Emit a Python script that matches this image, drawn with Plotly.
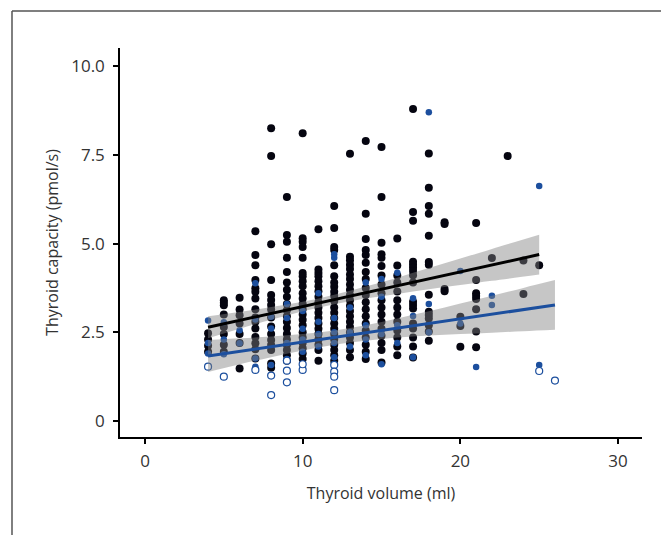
import plotly.graph_objects as go

# ---- data (x = thyroid volume ml, y = capacity pmol/s) ----
black_pts = {
    4: [2.47, 2.12, 1.95, 2.3],
    5: [3.4, 3.33, 3.26, 3.0, 2.65, 2.45, 2.15, 1.95],
    6: [3.47, 3.14, 2.98, 2.75, 2.45, 2.2, 1.48],
    7: [5.35, 4.68, 4.39, 3.97, 3.74, 3.64, 3.45, 3.15, 2.92, 2.8, 2.61, 2.37, 2.19, 2.02, 1.76],
    8: [8.25, 7.47, 4.98, 3.97, 3.55, 3.41, 3.27, 3.14, 2.92, 2.66, 2.45, 2.28, 2.14, 2.0, 1.62, 1.5],
    9: [6.31, 5.24, 5.05, 4.6, 4.2, 3.9, 3.7, 3.5, 3.3, 3.12, 2.95, 2.8, 2.62, 2.45, 2.3, 2.15, 2.0, 1.85, 1.7],
    10: [8.11, 5.15, 5.05, 4.9, 4.6, 4.17, 4.08, 3.94, 3.8, 3.6, 3.45, 3.3, 3.15, 3.0, 2.85, 2.7, 2.5, 2.35, 2.2, 2.05, 1.9, 1.75],
    11: [5.4, 4.27, 4.17, 4.08, 3.94, 3.8, 3.66, 3.5, 3.35, 3.2, 3.05, 2.9, 2.75, 2.6, 2.45, 2.3, 2.15, 2.0, 1.7],
    12: [6.06, 5.44, 4.9, 4.82, 4.39, 4.08, 3.9, 3.78, 3.64, 3.52, 3.38, 3.2, 3.05, 2.9, 2.75, 2.6, 2.45, 2.3, 2.15, 2.0, 1.85, 1.7],
    13: [7.53, 4.63, 4.53, 4.4, 4.28, 4.13, 4.0, 3.85, 3.7, 3.55, 3.4, 3.25, 3.1, 2.95, 2.8, 2.65, 2.5, 2.35, 2.2, 2.0, 1.8],
    14: [7.89, 5.84, 5.13, 4.82, 4.68, 4.46, 4.2, 4.0, 3.75, 3.55, 3.35, 3.15, 2.95, 2.75, 2.55, 2.35, 2.15, 1.95, 1.75],
    15: [7.72, 6.31, 5.02, 4.7, 4.6, 4.37, 4.1, 3.85, 3.6, 3.4, 3.2, 3.0, 2.8, 2.6, 2.4, 2.2, 2.0, 1.65],
    16: [5.14, 4.38, 4.1, 3.9, 3.65, 3.4, 3.2, 3.0, 2.8, 2.55, 2.35, 2.1, 1.85],
    17: [8.79, 5.89, 5.64, 4.49, 4.4, 4.32, 4.23, 4.11, 3.9, 3.36, 3.27, 3.17, 2.75, 2.61, 2.35, 2.1, 1.79],
    18: [7.54, 6.57, 6.06, 5.84, 5.22, 4.48, 4.4, 3.56, 3.08, 2.99, 2.89, 2.7, 2.52, 2.26],
    19: [5.6, 5.55, 3.72, 3.66],
    20: [2.94, 2.68, 2.09],
    21: [5.58, 3.97, 3.6, 3.52, 3.44, 3.15, 2.52, 2.08],
    22: [4.59],
    23: [7.47],
    24: [4.52, 3.58],
    25: [4.39],
}

blue_pts = {
    4: [2.83, 2.2, 1.9],
    5: [2.78, 2.3, 1.88],
    6: [2.56, 2.19],
    7: [3.88, 2.86, 1.76, 1.53],
    8: [2.94, 2.61, 1.58],
    9: [3.3, 2.9, 2.2, 1.75],
    10: [3.1, 2.6, 2.3, 1.95],
    11: [3.6, 2.8, 2.45, 2.1],
    12: [4.7, 4.6, 2.9, 2.5, 2.2, 1.8],
    13: [3.2, 2.5, 2.1],
    14: [3.9, 2.7, 2.3, 1.85],
    15: [4.0, 3.5, 2.45, 1.6],
    16: [4.18, 2.7, 2.2],
    17: [3.46, 2.96, 1.8],
    18: [8.7, 3.3, 2.5],
    20: [4.23, 2.75],
    21: [1.52],
    22: [3.53, 3.27],
    25: [6.62, 1.58],
}

open_pts = {
    4: [1.53], 5: [1.25], 7: [1.44], 8: [1.28, 0.73], 9: [1.7, 1.42, 1.09],
    10: [1.44, 1.6], 12: [1.58, 1.39, 1.25, 0.87], 25: [1.41], 26: [1.14],
}

# regression fits with confidence bands
black_fit_x = [4, 6, 8, 10, 12, 14, 16, 18, 20, 22, 25]
black_fit_y = [2.64, 2.835, 3.03, 3.226, 3.42, 3.62, 3.81, 4.01, 4.20, 4.40, 4.69]
black_lo = [2.33, 2.60, 2.85, 3.09, 3.29, 3.45, 3.58, 3.71, 3.83, 3.95, 4.13]
black_hi = [2.95, 3.07, 3.21, 3.36, 3.56, 3.79, 4.04, 4.31, 4.58, 4.85, 5.25]

blue_fit_x = [4, 6, 8, 10, 12, 14, 16, 18, 20, 22, 24, 26]
blue_fit_y = [1.83, 1.96, 2.09, 2.22, 2.35, 2.48, 2.62, 2.75, 2.88, 3.01, 3.14, 3.27]
blue_lo = [1.38, 1.60, 1.80, 1.99, 2.15, 2.26, 2.35, 2.41, 2.45, 2.49, 2.53, 2.57]
blue_hi = [2.28, 2.33, 2.38, 2.45, 2.55, 2.70, 2.89, 3.09, 3.31, 3.53, 3.75, 3.97]

x_ticks = [0, 10, 20, 30]
y_ticks = [0, 2.5, 5.0, 7.5, 10.0]
y_tick_labels = ["0", "2.5", "5.0", "7.5", "10.0"]


def flatten(d):
    xs, ys = [], []
    for k, vals in d.items():
        for v in vals:
            xs.append(k)
            ys.append(v)
    return xs, ys


BLUE = "#1c4f9e"
BAND = "rgba(128,128,128,0.45)"

fig = go.Figure()

bx, by = flatten(black_pts)
fig.add_trace(go.Scatter(x=bx, y=by, mode="markers",
                         marker=dict(color="#050510", size=8, line=dict(width=0))))
ux, uy = flatten(blue_pts)
fig.add_trace(go.Scatter(x=ux, y=uy, mode="markers",
                         marker=dict(color=BLUE, size=6.5, line=dict(width=0))))
ox, oy = flatten(open_pts)
fig.add_trace(go.Scatter(x=ox, y=oy, mode="markers",
                         marker=dict(color="white", size=7, line=dict(color=BLUE, width=1.2))))

for fx, lo, hi in [(black_fit_x, black_lo, black_hi), (blue_fit_x, blue_lo, blue_hi)]:
    fig.add_trace(go.Scatter(x=fx, y=lo, mode="lines", line=dict(width=0, shape="spline"),
                             hoverinfo="skip"))
    fig.add_trace(go.Scatter(x=fx, y=hi, mode="lines", line=dict(width=0, shape="spline"),
                             fill="tonexty", fillcolor=BAND, hoverinfo="skip"))

fig.add_trace(go.Scatter(x=black_fit_x, y=black_fit_y, mode="lines",
                         line=dict(color="black", width=3)))
fig.add_trace(go.Scatter(x=blue_fit_x, y=blue_fit_y, mode="lines",
                         line=dict(color=BLUE, width=3)))

font = "Open Sans, Noto Sans, DejaVu Sans, sans-serif"
TXT = "#333333"
fig.update_layout(
    width=661, height=527,
    margin=dict(l=112, r=27, t=40, b=98),
    paper_bgcolor="white", plot_bgcolor="white",
    showlegend=False,
    font=dict(family=font, size=16, color=TXT),
    xaxis=dict(range=[-1.585, 31.52], tickvals=x_ticks, showgrid=False, zeroline=False,
               showline=True, linecolor="black", linewidth=1.5,
               ticks="outside", ticklen=5, tickcolor="black", tickwidth=1.5,
               ticklabelstandoff=3,
               title=dict(text="Thyroid volume (ml)", standoff=17, font=dict(size=16, color=TXT)),
               tickfont=dict(size=17, color=TXT)),
    yaxis=dict(range=[-0.45, 10.51], tickvals=y_ticks, ticktext=y_tick_labels,
               showgrid=False, zeroline=False,
               showline=True, linecolor="black", linewidth=1.5,
               ticks="outside", ticklen=5, tickcolor="black", tickwidth=1.5,
               ticklabelstandoff=5,
               title=dict(text="Thyroid capacity (pmol/s)", standoff=9, font=dict(size=16, color=TXT)),
               tickfont=dict(size=17, color=TXT)),
    shapes=[
        dict(type="line", xref="paper", yref="paper", x0=-0.2069, x1=1.2, y0=1.0951, y1=1.0951,
             line=dict(color="#555555", width=1.5)),
        dict(type="line", xref="paper", yref="paper", x0=-0.2069, x1=-0.2069, y0=1.0951, y1=-0.4,
             line=dict(color="#555555", width=1.5)),
    ],
)

fig.write_html("out.html")
